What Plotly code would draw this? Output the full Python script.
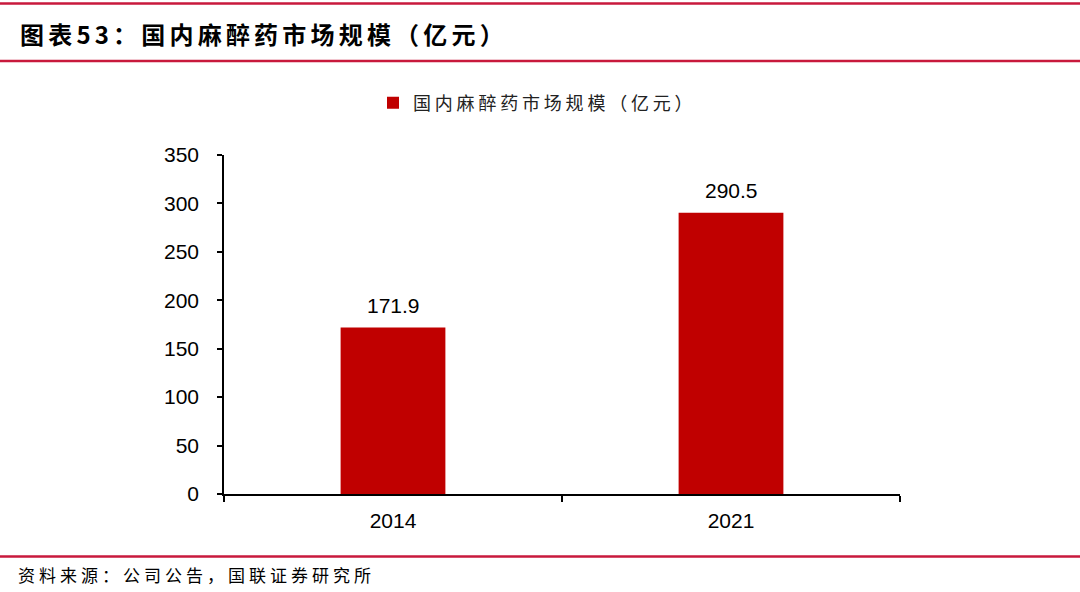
import plotly.graph_objects as go

categories = ["2014", "2021"]
values = [171.9, 290.5]
series_name = "国内麻醉药市场规模（亿元）"
title_text = "图表53：国内麻醉药市场规模（亿元）"
source_text = "资料来源：公司公告，国联证券研究所"
y_ticks = [0, 50, 100, 150, 200, 250, 300, 350]

W, H = 1080, 592
L, R, T, B = 224, 180, 155, 98
pw, ph = W - L - R, H - T - B

def px_x(px):
    return (px - L) / pw

def px_y(py):
    return (H - B - py) / ph

def spaced(s, sp):
    return f'<span style="letter-spacing:{sp}px">{s}</span>'

BAR = "#C00000"
LINE = "#C8193C"
NUM_FONT = "Liberation Sans, Arial, sans-serif"
CJK = "Noto Sans CJK SC, sans-serif"

fig = go.Figure()
fig.add_trace(go.Bar(
    x=categories, y=values, name=spaced(series_name, 3.8),
    marker=dict(color=BAR, line=dict(width=0)),
    showlegend=True,
))

for i, v in enumerate(values):
    fig.add_annotation(x=i, y=v, text=f"{v:.1f}", showarrow=False,
                       yanchor="bottom", yshift=9,
                       font=dict(family=NUM_FONT, size=21, color="#000"))

fig.update_layout(
    width=W, height=H,
    margin=dict(l=L, r=R, t=T, b=B),
    paper_bgcolor="white", plot_bgcolor="white",
    bargap=0.69,
    showlegend=True,
    legend=dict(orientation="h", x=px_x(373), y=px_y(103), xanchor="left", yanchor="middle",
                font=dict(family=CJK, size=18, color="#222"),
                itemwidth=30, bgcolor="rgba(0,0,0,0)"),
    xaxis=dict(type="category", range=[-0.5, 1.5], showline=True, linecolor="#000", linewidth=1.5,
               ticks="outside", tickson="boundaries", ticklen=6, tickcolor="#000", tickwidth=1.5,
               tickfont=dict(family=NUM_FONT, size=21, color="#000"), tickangle=0,
               ticklabelstandoff=7, showgrid=False, zeroline=False),
    yaxis=dict(range=[0, 350], tickvals=y_ticks, showline=True, linecolor="#000", linewidth=1.5,
               ticks="outside", ticklen=5, tickcolor="#000", tickwidth=1.5,
               tickfont=dict(family=NUM_FONT, size=21, color="#000"),
               ticklabelstandoff=14, showgrid=False, zeroline=False),
)

fig.add_annotation(xref="paper", yref="paper", x=px_x(18), y=px_y(34), xanchor="left", yanchor="middle",
                   text=f"<b>{spaced(title_text, 4.2)}</b>", showarrow=False,
                   font=dict(family=CJK, size=24, color="#000"))
fig.add_annotation(xref="paper", yref="paper", x=px_x(16), y=px_y(574), xanchor="left", yanchor="middle",
                   text=spaced(source_text, 4), showarrow=False,
                   font=dict(family=CJK, size=17, color="#000"))

for py, w in [(3.5, 2.5), (61, 2.5), (556.5, 2.5)]:
    fig.add_shape(type="line", xref="paper", yref="paper", x0=px_x(0), x1=px_x(W), y0=px_y(py), y1=px_y(py),
                  line=dict(color=LINE, width=w))

fig.write_html("out.html", config={"displayModeBar": False},
               post_script="document.body.style.margin='0';")
